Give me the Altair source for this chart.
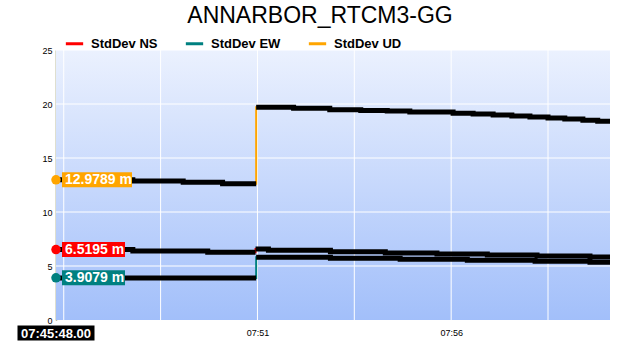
import altair as alt
import pandas as pd

DAY = "2024-01-01T"

series_names = ["StdDev NS", "StdDev EW", "StdDev UD"]
series_colors = ["#ff0000", "#008080", "#ffa500"]

# StdDev NS
ns_pre_t = ["07:45:48", "07:47:47", "07:49:43", "07:50:57"]
ns_pre_v = [6.52, 6.40, 6.27, 6.27]
ns_post_t = ["07:50:57", "07:51:17", "07:52:53", "07:54:18", "07:55:38", "07:56:56", "07:58:13", "07:59:35", "08:00:06"]
ns_post_v = [6.57, 6.45, 6.31, 6.20, 6.11, 6.02, 5.93, 5.84, 5.84]

# StdDev EW
ew_pre_t = ["07:45:48", "07:50:58"]
ew_pre_v = [3.90, 3.90]
ew_post_t = ["07:50:58", "07:52:53", "07:54:41", "07:56:25", "07:58:10", "07:59:35", "08:00:06"]
ew_post_v = [5.82, 5.72, 5.62, 5.53, 5.43, 5.34, 5.34]

# StdDev UD
ud_pre_t = ["07:45:48", "07:47:47", "07:49:05", "07:50:06", "07:50:58"]
ud_pre_v = [12.98, 12.87, 12.75, 12.62, 12.62]
ud_post_t = ["07:50:58", "07:51:56", "07:52:52", "07:53:40", "07:54:21", "07:54:56", "07:56:03", "07:56:34",
             "07:57:05", "07:57:34", "07:58:02", "07:58:30", "07:58:56", "07:59:24", "07:59:47", "08:00:06"]
ud_post_v = [19.69, 19.60, 19.47, 19.40, 19.35, 19.26, 19.14, 19.07,
             18.98, 18.90, 18.80, 18.70, 18.60, 18.50, 18.40, 18.40]

start_time = "07:45:48"
start_values = [6.5195, 3.9079, 12.9789]
start_labels = ["6.5195 m", "3.9079 m", "12.9789 m"]
box_widths = [63, 63, 70]

grid_times = ["07:46:00", "07:48:30", "07:51:00", "07:53:30", "07:56:00", "07:58:30"]
grid_values = [5, 10, 15, 20, 25]

rows = []
segs = {
    "StdDev NS": [(ns_pre_t, ns_pre_v), (ns_post_t, ns_post_v)],
    "StdDev EW": [(ew_pre_t, ew_pre_v), (ew_post_t, ew_post_v)],
    "StdDev UD": [(ud_pre_t, ud_pre_v), (ud_post_t, ud_post_v)],
}
for name, parts in segs.items():
    i = 0
    for si, (ts, vs) in enumerate(parts):
        for t, v in zip(ts, vs):
            rows.append({"series": name, "t": DAY + t, "v": v, "seg": f"{name}-{si}", "idx": i})
            i += 1
df = pd.DataFrame(rows)

W, H = 554, 270

def dt(h, m, s):
    return alt.DateTime(year=2024, month=1, date=1, hours=h, minutes=m, seconds=s)

xscale = alt.Scale(domain=[dt(7, 45, 48), dt(8, 0, 6)])
yscale = alt.Scale(domain=[0, 25])
color_scale = alt.Scale(domain=series_names, range=series_colors)

bg = alt.Chart(pd.DataFrame({"a": [0]})).mark_rect(
    color=alt.LinearGradient(
        gradient="linear", x1=0, x2=0, y1=0, y2=1,
        stops=[alt.GradientStop(color="#ebf1fe", offset=0),
               alt.GradientStop(color="#a2bffa", offset=1)],
    )
).encode(x=alt.value(0), x2=alt.value(W), y=alt.value(0), y2=alt.value(H))

vgrid = alt.Chart(pd.DataFrame({"t": [DAY + g for g in grid_times]})).mark_rule(
    color="white", strokeWidth=1
).encode(x=alt.X("t:T", scale=xscale))

hgrid = alt.Chart(pd.DataFrame({"v": grid_values})).mark_rule(
    color="white", strokeWidth=1
).encode(y=alt.Y("v:Q", scale=yscale))

colored = alt.Chart(df).mark_line(interpolate="step-after", strokeWidth=2).encode(
    x=alt.X("t:T", scale=xscale,
            axis=alt.Axis(title=None, format="%H:%M", values=[dt(7, 51, 0), dt(7, 56, 0)],
                          grid=False, ticks=False, domain=False, labelFontSize=9,
                          labelFont="Liberation Sans", labelColor="black", labelPadding=8)),
    y=alt.Y("v:Q", scale=yscale,
            axis=alt.Axis(title=None, values=[0, 5, 10, 15, 20, 25], grid=False, ticks=False,
                          domainColor="#808040", domainWidth=1.5, labelFontSize=9,
                          labelFont="Liberation Sans", labelColor="black", labelPadding=4)),
    color=alt.Color("series:N", scale=color_scale, sort=series_names,
                    legend=alt.Legend(title=None, orient="none", legendX=8, legendY=-17,
                                      direction="horizontal", symbolType="stroke",
                                      symbolStrokeWidth=3, symbolSize=300,
                                      labelFont="Liberation Sans", labelFontSize=13,
                                      labelFontWeight="bold", labelColor="black",
                                      columnPadding=21, labelOffset=6)),
    detail="series:N",
    order="idx:Q",
)

band = alt.Chart(df).mark_line(interpolate="step-after", strokeWidth=5, color="black").encode(
    x=alt.X("t:T", scale=xscale),
    y=alt.Y("v:Q", scale=yscale),
    detail="seg:N",
    order="idx:Q",
)

lab_df = pd.DataFrame({"series": series_names, "t": [DAY + start_time] * 3,
                       "v": start_values, "label": start_labels, "w": box_widths})

layers = [bg, vgrid, hgrid, colored, band]

for i, name in enumerate(series_names):
    sub = lab_df[lab_df["series"] == name]
    w = box_widths[i]
    layers.append(
        alt.Chart(sub).mark_rect(width=w, height=15, xOffset=6 + w / 2, color=series_colors[i]).encode(
            x=alt.X("t:T", scale=xscale), y=alt.Y("v:Q", scale=yscale)
        )
    )

dots = alt.Chart(lab_df).mark_circle(size=90, opacity=1).encode(
    x=alt.X("t:T", scale=xscale), y=alt.Y("v:Q", scale=yscale),
    color=alt.Color("series:N", scale=color_scale, legend=None),
)
texts = alt.Chart(lab_df).mark_text(align="left", dx=9, dy=0.5, color="white", fontSize=14,
                                    fontWeight="bold", font="Liberation Sans").encode(
    x=alt.X("t:T", scale=xscale), y=alt.Y("v:Q", scale=yscale), text="label:N"
)

time_df = pd.DataFrame({"t": [DAY + start_time], "v": [0], "label": [start_time + ".00"]})
time_box = alt.Chart(time_df).mark_rect(width=77, height=15, yOffset=13, color="black").encode(
    x=alt.X("t:T", scale=xscale), y=alt.Y("v:Q", scale=yscale)
)
time_txt = alt.Chart(time_df).mark_text(dy=13.5, color="white", fontSize=13, fontWeight="bold",
                                        font="Liberation Sans").encode(
    x=alt.X("t:T", scale=xscale), y=alt.Y("v:Q", scale=yscale), text="label:N"
)

layers += [dots, texts, time_box, time_txt]

chart = alt.layer(*layers).properties(
    width=W, height=H,
    title=alt.TitleParams("ANNARBOR_RTCM3-GG", font="Liberation Sans", fontSize=23,
                          fontWeight="normal", color="black", anchor="middle", dx=-13, offset=5),
    padding={"left": 56, "top": 50, "right": 30, "bottom": 30},
    autosize=alt.AutoSizeParams(type="none"),
).configure_view(stroke=None)

chart.save("out.html", embed_options={"renderer": "svg", "actions": False})
